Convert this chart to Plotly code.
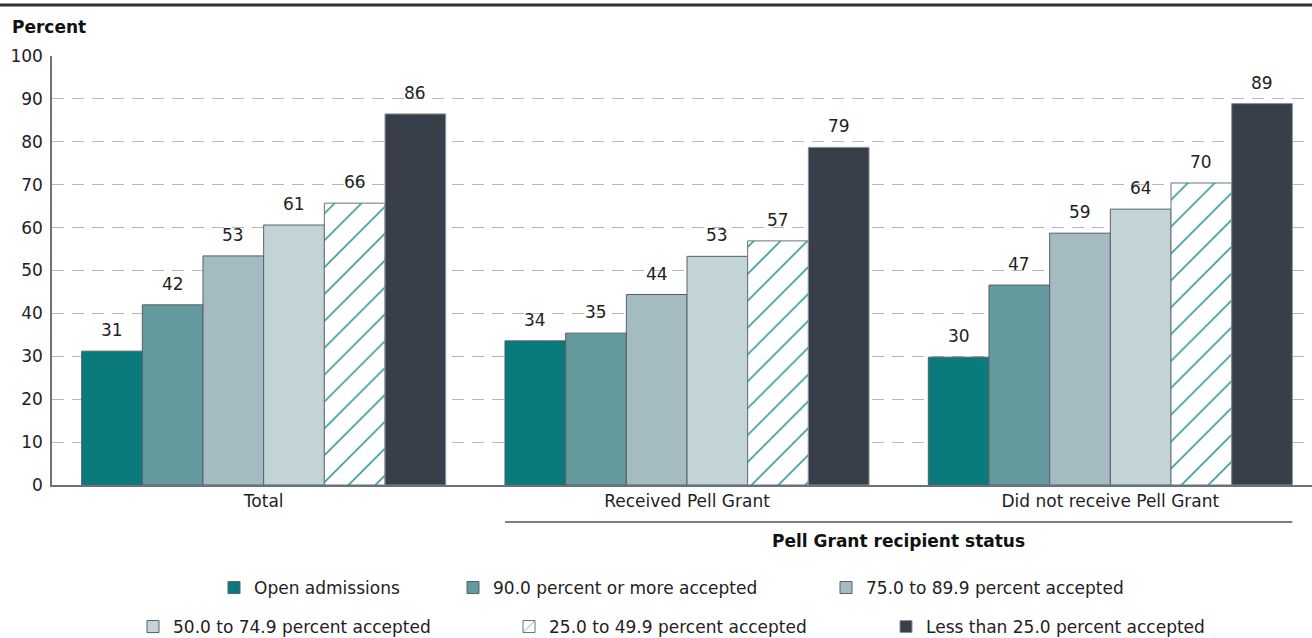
import plotly.graph_objects as go

categories = ["Total", "Received Pell Grant", "Did not receive Pell Grant"]
series_names = [
    "Open admissions",
    "90.0 percent or more accepted",
    "75.0 to 89.9 percent accepted",
    "50.0 to 74.9 percent accepted",
    "25.0 to 49.9 percent accepted",
    "Less than 25.0 percent accepted",
]
open_adm = [31.2, 33.6, 29.8]
pct90 = [42.0, 35.4, 46.6]
pct75 = [53.4, 44.4, 58.7]
pct50 = [60.6, 53.3, 64.3]
pct25 = [65.7, 56.9, 70.4]
pct_lt25 = [86.5, 78.7, 88.9]
values = [open_adm, pct90, pct75, pct50, pct25, pct_lt25]

colors = ["#0a7b7d", "#64999e", "#a4bcc1", "#c3d4d7", "#ffffff", "#383f4b"]
line_colors = ["#55606a", "#55606a", "#55606a", "#55606a", "#6b727a", "#8a9098"]

FONT = "DejaVu Sans"
TXT = "#222222"
FS = 17

# plot area geometry (px)
L, R, T, B = 52, 0, 56, 153
W, H = 1312, 638
PW, PH = W - L - R, H - T - B

def px_x(x):
    return (x - L) / PW

def px_y(y):
    return (H - B - y) / PH

# legend text start positions (px) and row centres
legend_text_x = [254, 493, 866, 173, 549, 926]
legend_row_y = [588, 588, 588, 627, 627, 627]

bargap = 0.14
n_series = len(series_names)
x_pos = list(range(len(categories)))
fig = go.Figure()
legend_layout = {}
for i, name in enumerate(series_names):
    marker = dict(color=colors[i], line=dict(color=line_colors[i], width=1))
    if i == 4:
        marker["pattern"] = dict(shape="/", fgcolor="#128a8c", fgopacity=1,
                                 bgcolor="#ffffff", size=19, solidity=0.075,
                                 fillmode="overlay")
    lid = "legend" if i == 0 else f"legend{i + 1}"
    fig.add_trace(go.Bar(
        x=x_pos, y=values[i], name=name, marker=marker,
        cliponaxis=False, legend=lid, hoverinfo="name+y",
    ))
    legend_layout[lid] = dict(
        orientation="h", x=px_x(legend_text_x[i] - 40), xanchor="left",
        y=px_y(legend_row_y[i]), yanchor="middle",
        font=dict(family=FONT, size=FS, color=TXT), bgcolor="rgba(0,0,0,0)",
        borderwidth=0,
    )
    # value labels above each bar, placed at the bar's slot within its group
    offset = (-0.5 + (i + 0.5) / n_series) * (1 - bargap)
    for xc, v in zip(x_pos, values[i]):
        fig.add_annotation(x=xc + offset, y=v, xref="x", yref="y",
                           text=f"{v:.0f}", showarrow=False,
                           yanchor="middle", yshift=21,
                           font=dict(family=FONT, size=FS, color=TXT))

fig.update_layout(
    width=W, height=H,
    margin=dict(l=L, r=R, t=T, b=B, autoexpand=False),
    paper_bgcolor="white", plot_bgcolor="white",
    barmode="group", bargap=bargap, bargroupgap=0,
    font=dict(family=FONT, size=FS, color=TXT),
    showlegend=True,
    xaxis=dict(
        tickmode="array", tickvals=x_pos, ticktext=categories,
        range=[-0.5, 2.5 - 10 / 423], showgrid=False, zeroline=False,
        showline=True, linecolor="#6b727a", linewidth=1.5, ticks="",
        tickfont=dict(family=FONT, size=FS, color=TXT), automargin=False,
    ),
    yaxis=dict(
        range=[0, 100], tickmode="linear", tick0=0, dtick=10,
        showgrid=True, gridcolor="#b3b8be", gridwidth=1, griddash="12px,8px",
        zeroline=False, showline=True, linecolor="#6b727a", linewidth=1.5,
        ticks="", tickfont=dict(family=FONT, size=FS, color=TXT),
        ticklabelstandoff=4, automargin=False,
    ),
    **legend_layout,
)

half = (1 - bargap) / 2
fig.add_shape(type="line", xref="x", yref="paper",
              x0=1 - half, x1=2 + half, y0=px_y(522), y1=px_y(522),
              line=dict(color="#7a7f86", width=2))
fig.add_annotation(text="<b>Pell Grant recipient status</b>", xref="x", yref="paper",
                   x=1.5, y=px_y(541), showarrow=False, yanchor="middle",
                   font=dict(family=FONT, size=FS, color="#111111"))
fig.add_shape(type="line", xref="paper", yref="paper",
              x0=px_x(0), x1=1, y0=px_y(5), y1=px_y(5),
              line=dict(color="#333333", width=3))
fig.add_annotation(text="<b>Percent</b>", xref="paper", yref="paper",
                   x=px_x(10), y=px_y(27), xanchor="left", yanchor="middle",
                   showarrow=False, font=dict(family=FONT, size=FS, color="#111111"))

fig.write_html("out.html", config={"displayModeBar": False},
               post_script="document.body.style.margin='0px';document.body.style.overflow='hidden';")
